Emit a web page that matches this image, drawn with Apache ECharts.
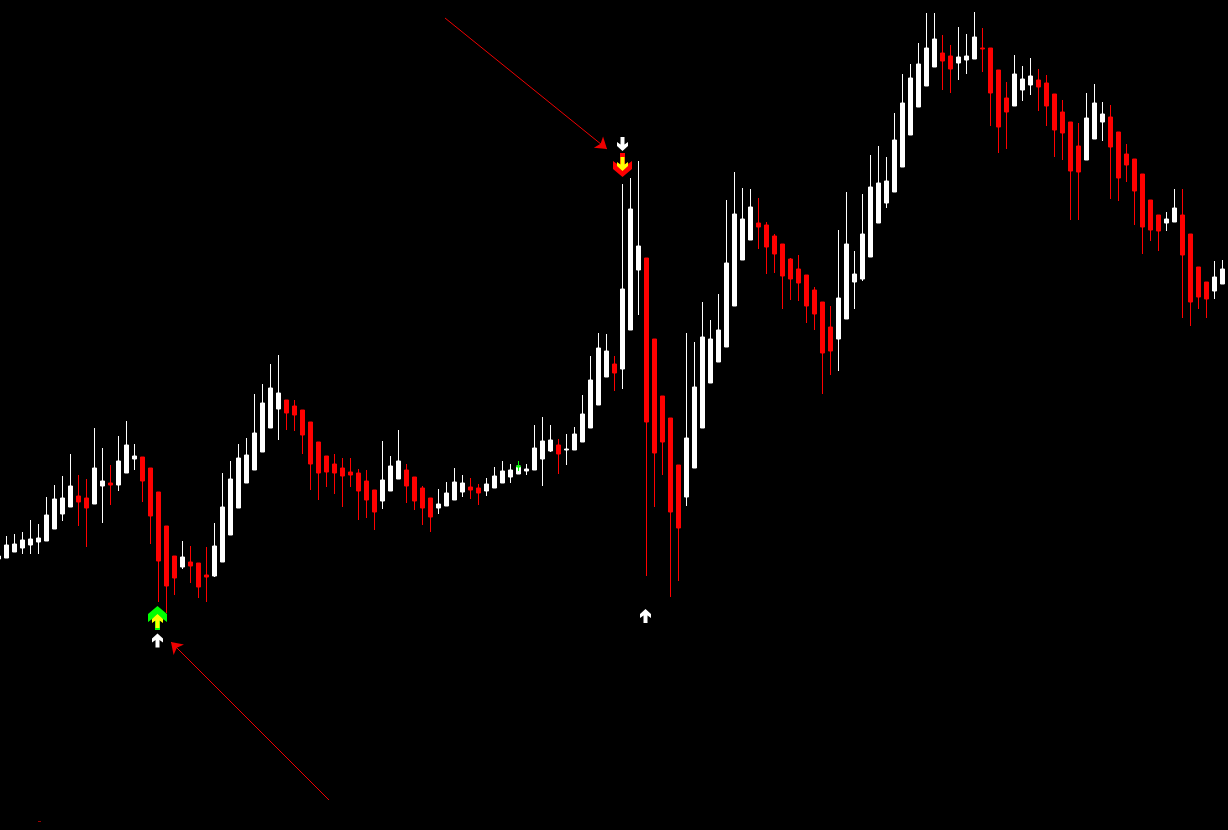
<!DOCTYPE html>
<html>
<head>
<meta charset="utf-8">
<style>html,body{margin:0;padding:0;background:#000;}#c{width:1228px;height:830px;}</style>
<script src="https://cdn.jsdelivr.net/npm/echarts@6/dist/echarts.min.js"></script>
</head>
<body>
<div id="c"></div>
<script>
const opens = [271,272,278,282,285,288,289,301,316,323,334,332,326,344,347,345,357,371,373,362,338,304,274,263,268,267,255,254,268,295,322,347,360,378,402,421,430,424,420,408,388,374,366,362,358,357,349,340,329,339,351,360,353,342,332,322,324,330,338,343,342,339,342,347,353,356,359,360,371,379,385,380,380,388,402,425,453,466,461,500,560,572,491,434,412,365,333,362,402,447,468,483,524,570,590,607,605,594,586,571,561,555,540,528,503,491,511,548,551,573,607,627,638,663,695,723,744,763,777,774,767,770,771,782,782,760,732,724,740,745,750,747,736,718,708,684,670,691,708,713,698,676,671,656,630,615,607,608,615,596,563,548,539,546];
const closes = [274,285,286,290,291,292,315,331,332,344,328,322,362,349,345,369,385,374,349,314,269,244,252,273,264,243,253,284,323,351,372,375,397,427,442,437,417,415,395,366,357,358,357,354,355,339,330,318,350,364,369,344,329,322,313,326,337,348,347,340,337,346,354,359,360,364,361,382,389,390,376,381,396,416,450,482,479,457,541,621,584,408,377,388,318,302,392,443,493,491,500,567,616,611,623,603,583,576,554,551,547,524,516,477,479,532,586,556,596,643,647,649,690,727,752,766,782,791,769,761,773,774,793,781,737,703,718,756,751,754,743,724,700,697,659,658,712,727,716,683,652,665,639,603,600,599,611,622,575,528,533,531,553,561];
const lows = [270,272,278,276,276,276,289,301,309,323,304,283,326,307,325,339,357,360,328,286,228,217,235,261,247,232,228,253,268,295,322,347,360,378,402,390,400,399,376,340,330,343,336,323,343,310,312,300,321,339,351,327,320,305,298,316,324,330,333,331,325,334,342,347,347,356,355,360,344,378,356,365,380,388,402,425,453,439,441,500,515,254,323,355,233,249,324,362,402,447,468,483,524,570,590,581,556,557,521,530,529,507,500,436,455,459,511,521,549,573,607,622,638,663,695,723,744,763,740,737,750,756,771,758,704,677,681,724,729,735,719,704,673,670,610,610,670,691,689,631,629,648,605,576,589,579,599,608,512,504,521,512,531,546];
const highs = [277,294,296,298,310,306,333,345,354,376,355,351,402,382,365,394,409,386,373,362,338,304,274,289,284,267,283,307,357,369,386,392,436,446,466,475,430,430,420,408,388,374,376,372,372,361,360,340,389,374,400,366,353,344,332,341,348,362,355,352,346,352,363,369,366,364,366,405,413,405,391,396,403,435,474,497,496,474,646,652,669,572,491,434,412,365,497,488,528,510,536,630,658,642,641,632,608,596,586,572,575,555,543,528,524,600,638,579,636,675,684,673,717,756,766,787,817,817,795,785,803,796,818,802,782,760,748,775,764,772,761,755,736,730,708,707,737,746,728,725,698,686,671,656,630,615,618,641,641,596,563,548,569,570];
const greenCandle = {category:65, open:364, close:363, low:359, high:369};
const upArrowsWhite = [[20,189.5],[81,214]];
const downArrowWhite = [[78,686]];
const upArrowGreen = [[20,212]];
const upArrowYellow = [[20,209]];
const downArrowRed = [[78,665]];
const downArrowYellow = [[78,666]];
const callouts = [[[445,812],[607,681]],[[329,30],[171,188]]];
const speck = [[38,8.5],[41,8.5]];

const categories = opens.map((_, i) => i);
const candles = opens.map((o, i) => [o, closes[i], lows[i], highs[i]]);
const green = categories.map(c => c === greenCandle.category ? [greenCandle.open, greenCandle.close, greenCandle.low, greenCandle.high] : ['-','-','-','-']);

const UP_SMALL = 'path://M5.5 0L11 5L11 9L7.5 6.5L7.5 14L3.5 14L3.5 6.5L0 9L0 5Z';
const UP_BIG = 'path://M9.5 0L19 8L19 16L12 11L12 24L7 24L7 11L0 16L0 8Z';

function marks(data, symbol, size, color, rotate, offset){
  return {type:'scatter', xAxisIndex:0, yAxisIndex:0, data:data, symbol:symbol, symbolSize:size,
    symbolRotate:rotate, symbolOffset:offset, itemStyle:{color:color, opacity:1}, silent:true, z:5, clip:false};
}

const chart = echarts.init(document.getElementById('c'), null, {renderer:'canvas'});
chart.setOption({
  animation:false,
  backgroundColor:'#000000',
  tooltip:{show:false},
  legend:{show:false},
  grid:[
    {left:-5.5, top:0, width:1232, height:830, show:false, containLabel:false, outerBoundsMode:'none'},
    {left:0, top:0, width:1228, height:830, show:false, containLabel:false, outerBoundsMode:'none'}
  ],
  xAxis:[
    {type:'category', gridIndex:0, data:categories, show:false, boundaryGap:true},
    {type:'value', gridIndex:1, min:0, max:1228, show:false}
  ],
  yAxis:[
    {type:'value', gridIndex:0, min:0, max:830, show:false, splitLine:{show:false}},
    {type:'value', gridIndex:1, min:0, max:830, show:false, splitLine:{show:false}}
  ],
  series:[
    {type:'candlestick', xAxisIndex:0, yAxisIndex:0, data:candles, barWidth:4, silent:true, z:2,
      itemStyle:{color:'#ffffff', color0:'#ff0000', borderColor:'#ffffff', borderColor0:'#ff0000', borderWidth:1}},
    {type:'candlestick', xAxisIndex:0, yAxisIndex:0, data:green, barWidth:4, silent:true, z:3,
      itemStyle:{color:'#00ff00', color0:'#00ff00', borderColor:'#00ff00', borderColor0:'#00ff00', borderWidth:1}},
    marks(upArrowGreen, UP_BIG, [19,24], '#00ff00', 0, [-1,0]),
    marks(upArrowYellow, UP_SMALL, [11,14], '#ffff00', 0, [-1,0]),
    marks(upArrowsWhite, UP_SMALL, [11,14], '#ffffff', 0, [-1,0]),
    marks(downArrowRed, UP_BIG, [19,24], '#ff0000', 180, [0,0]),
    marks(downArrowYellow, UP_SMALL, [11,14], '#ffff00', 180, [0,0]),
    marks(downArrowWhite, UP_SMALL, [11,14], '#ffffff', 180, [0,0]),
    {type:'lines', coordinateSystem:'cartesian2d', xAxisIndex:1, yAxisIndex:1, silent:true, z:4,
      data:callouts.map(c => ({coords:c})), symbol:['none','arrow'], symbolSize:11,
      lineStyle:{color:'#f00000', width:1, opacity:1, curveness:0}},
    {type:'lines', coordinateSystem:'cartesian2d', xAxisIndex:1, yAxisIndex:1, silent:true, z:4,
      data:[{coords:speck}], symbol:['none','none'],
      lineStyle:{color:'#a00000', width:1, opacity:1, curveness:0}}
  ]
});
</script>
</body>
</html>
